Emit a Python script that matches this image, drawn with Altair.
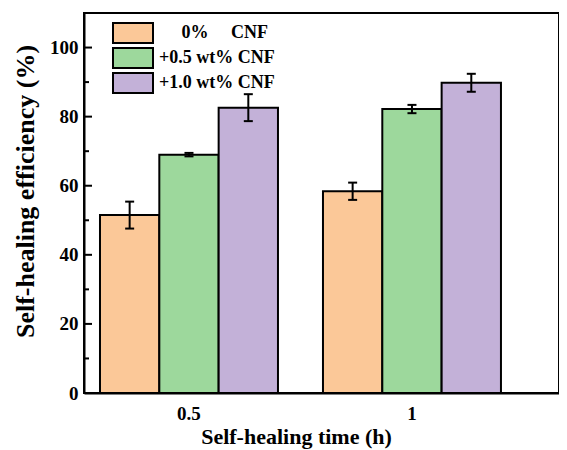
import altair as alt
import pandas as pd

times = ["0.5", "0.5", "0.5", "1", "1", "1"]
series_names = ["\u200b\u2002\u2002\u00a00%\u2002\u2002\u00a0CNF", "+0.5 wt% CNF", "+1.0 wt% CNF"]
series = series_names * 2
values = [51.5, 69.0, 82.6, 58.4, 82.2, 89.8]
errors = [3.9, 0.5, 3.9, 2.5, 1.2, 2.6]
colors = ["#FBC898", "#9DD89C", "#C3B1D8"]
major_ticks = [0, 20, 40, 60, 80, 100]
minor_ticks = [10, 30, 50, 70, 90]

df = pd.DataFrame({"time": times, "series": series, "value": values, "err": errors})
df["lo"] = df["value"] - df["err"]
df["hi"] = df["value"] + df["err"]

FONT = "Liberation Serif"

xenc = alt.X("time:N", sort=["0.5", "1"],
             scale=alt.Scale(paddingInner=0.2018, paddingOuter=0.166, align=0.216),
             axis=alt.Axis(title="Self-healing time (h)", labelAngle=0, ticks=False,
                           labelPadding=11, titlePadding=3, titleFontSize=22, titleX=212))
xoff = alt.XOffset("series:N", sort=series_names, scale=alt.Scale(paddingInner=0, paddingOuter=0))
yscale = alt.Scale(domain=[0, 110], nice=False)

bars = alt.Chart(df).mark_bar(stroke="black", strokeWidth=2, opacity=1).encode(
    x=xenc,
    xOffset=xoff,
    y=alt.Y("value:Q", scale=yscale,
            axis=alt.Axis(title="Self-healing efficiency (%)", values=major_ticks, ticks=False,
                          grid=False, labelPadding=6, titlePadding=11, titleFontSize=26,
                          titleY=178)),
    color=alt.Color("series:N", sort=series_names,
                    scale=alt.Scale(domain=series_names, range=colors),
                    legend=alt.Legend(title=None, orient="none", legendX=38, legendY=9, padding=0,
                                      symbolType="M-2,-1H2V1H-2Z", symbolSize=400,
                                      symbolStrokeColor="black", symbolStrokeWidth=2,
                                      symbolOpacity=1, labelFontSize=18, labelFont=FONT,
                                      labelFontWeight="bold", labelColor="black",
                                      labelOffset=15, rowPadding=-5, symbolLimit=0)),
)

rules = alt.Chart(df).mark_rule(color="black", strokeWidth=2).encode(
    x=alt.X("time:N", sort=["0.5", "1"]),
    xOffset=xoff,
    y=alt.Y("lo:Q", scale=yscale),
    y2="hi:Q",
)

caps_lo = alt.Chart(df).mark_tick(color="black", thickness=2, size=9, opacity=1).encode(
    x=alt.X("time:N", sort=["0.5", "1"]),
    xOffset=xoff,
    y=alt.Y("lo:Q", scale=yscale),
)
caps_hi = alt.Chart(df).mark_tick(color="black", thickness=2, size=9, opacity=1).encode(
    x=alt.X("time:N", sort=["0.5", "1"]),
    xOffset=xoff,
    y=alt.Y("hi:Q", scale=yscale),
)

maj = alt.Chart(pd.DataFrame({"t": major_ticks})).mark_rule(color="black", strokeWidth=2).encode(
    y=alt.Y("t:Q", scale=yscale), x=alt.value(0), x2=alt.value(8))
mnr = alt.Chart(pd.DataFrame({"t": minor_ticks})).mark_rule(color="black", strokeWidth=2).encode(
    y=alt.Y("t:Q", scale=yscale), x=alt.value(0), x2=alt.value(5))

chart = alt.layer(bars, rules, caps_lo, caps_hi, maj, mnr).properties(
    width=475, height=380,
    autosize=alt.AutoSizeParams(type="none"),
    padding={"left": 76, "top": 5, "right": 0, "bottom": 57},
).configure_view(
    stroke="black", strokeWidth=2
).configure_axis(
    labelFont=FONT, labelFontWeight="bold", labelFontSize=19, labelColor="black",
    titleFont=FONT, titleFontWeight="bold", titleColor="black",
    domainColor="black", domainWidth=2,
)

chart.save("out.html", embed_options={"renderer": "svg", "actions": False})
